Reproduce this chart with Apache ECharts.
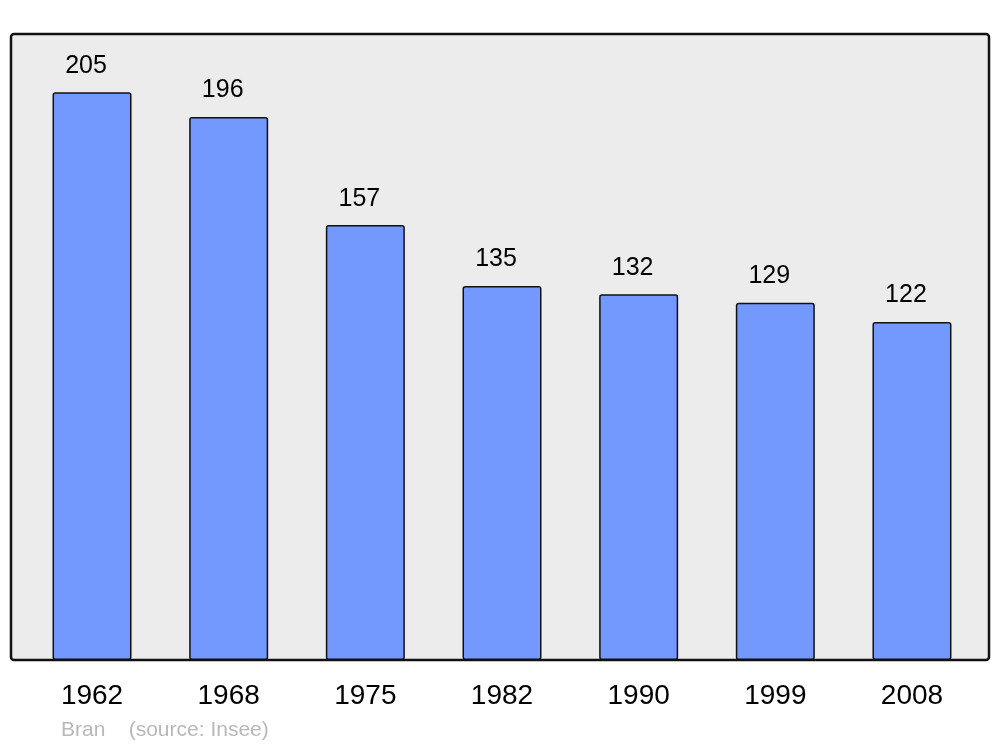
<!DOCTYPE html>
<html><head><meta charset="utf-8">
<script src="https://cdn.jsdelivr.net/npm/echarts@6/dist/echarts.min.js"></script>
<style>html,body{margin:0;padding:0;background:#fff}#c{width:1000px;height:747px}</style>
</head><body><div id="c"></div>
<script>
const years = ['1962','1968','1975','1982','1990','1999','2008'];
const population = [205,196,157,135,132,129,122];
const sourceText = 'Bran    (source: Insee)';

const chart = echarts.init(document.getElementById('c'), null, {renderer:'canvas'});
chart.setOption({
  animation:false,
  backgroundColor:'#ffffff',
  graphic:[
    {type:'rect', z:-10, shape:{x:11,y:34,width:978,height:626,r:3},
     style:{fill:'#ececec', stroke:'#111111', lineWidth:2.5}},
    {type:'text', left:61, top:720, style:{text:sourceText, fill:'#b8b8b8', font:'21px "Liberation Sans", Arial, sans-serif'}}
  ],
  grid:{left:23.7, right:19.7, top:34, bottom:87},
  xAxis:{type:'category', data:years,
    axisLine:{show:false}, axisTick:{show:false},
    axisLabel:{color:'#000', fontSize:28, fontFamily:'Liberation Sans', margin:22}},
  yAxis:{type:'value', min:0, max:226, show:false, splitLine:{show:false}},
  series:[{type:'bar', data:population, barWidth:79,
    itemStyle:{color:'#7399ff', borderColor:'#111', borderWidth:1.5, borderRadius:2},
    label:{show:true, position:'top', distance:14, offset:[-6,0], color:'#000', fontSize:25, fontFamily:'Liberation Sans'}}]
});
</script></body></html>
